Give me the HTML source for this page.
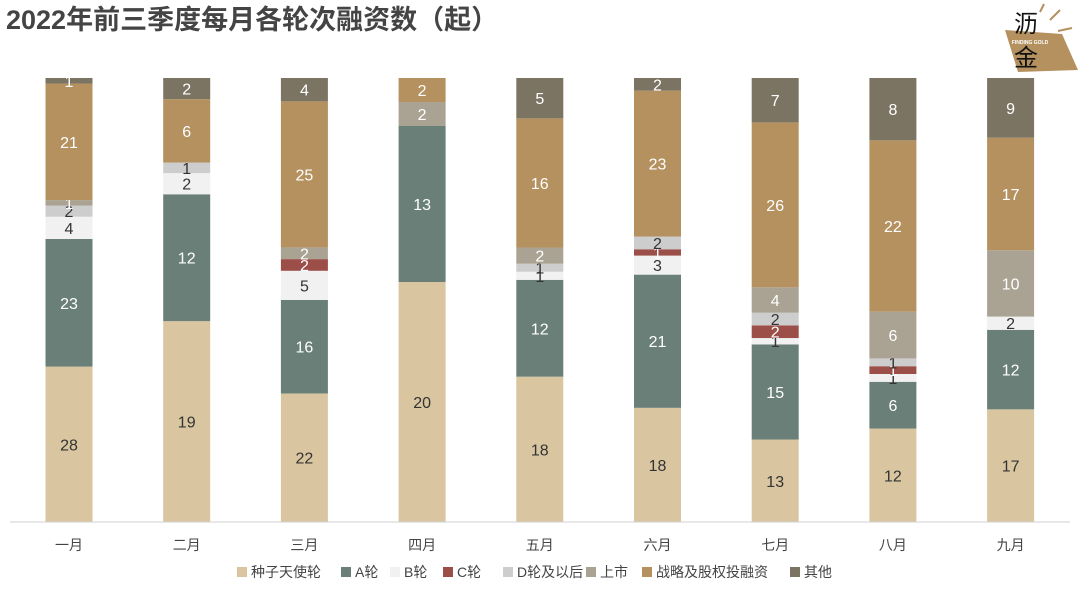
<!DOCTYPE html>
<html><head><meta charset="utf-8"><style>
body{margin:0;background:#fff;font-family:"Liberation Sans","Noto Sans CJK SC",sans-serif}
</style></head><body>
<svg width="1080" height="591" xmlns="http://www.w3.org/2000/svg" id="chart">
<text x="6" y="29" font-size="27" font-weight="bold" fill="#444" font-family="Liberation Sans, Noto Sans CJK SC, sans-serif">2022年前三季度每月各轮次融资数（起）</text>
<g>
<polygon points="1005,30 1062,34 1078,70 1018,72" fill="#b4915f"/>
<line x1="1040" y1="12" x2="1044" y2="4" stroke="#b4915f" stroke-width="2"/>
<line x1="1050" y1="20" x2="1060" y2="10" stroke="#b4915f" stroke-width="2"/>
<line x1="1058" y1="31" x2="1072" y2="28" stroke="#b4915f" stroke-width="2"/>
<text x="1026" y="32" font-size="24" text-anchor="middle" fill="#111" font-family="Noto Sans CJK SC, sans-serif">沥</text>
<text x="1030" y="44" font-size="5" font-weight="bold" text-anchor="middle" fill="#fff">FINDING GOLD</text>
<text x="1026" y="66" font-size="24" text-anchor="middle" fill="#111" font-family="Noto Sans CJK SC, sans-serif">金</text>
</g>
<g id="bars"></g>
<line x1="10" y1="522" x2="1070" y2="522" stroke="#d0d0d0"/>
<g id="xlabels"></g>
<g id="legend"></g>
</svg>
<script>
const months = ["一月","二月","三月","四月","五月","六月","七月","八月","九月"];
const seriesNames = ["种子天使轮","A轮","B轮","C轮","D轮及以后","上市","战略及股权投融资","其他"];
const seed = [28,19,22,20,18,18,13,12,17];
const roundA = [23,12,16,13,12,21,15,6,12];
const roundB = [4,2,5,0,1,3,1,1,2];
const roundC = [0,0,2,0,0,1,2,1,0];
const roundD = [2,1,0,0,1,2,2,1,0];
const ipo = [1,0,2,2,2,0,4,6,10];
const strategic = [21,6,25,2,16,23,26,22,17];
const other = [1,2,4,0,5,2,7,8,9];
const series = [seed,roundA,roundB,roundC,roundD,ipo,strategic,other];
const colors = ["#d9c6a0","#6a7f78","#f1f1f1","#9c4f48","#cdcdcd","#aaa292","#b4915f","#7c7463"];
const textColors = ["#333","#fff","#333","#fff","#333","#fff","#fff","#fff"];
const NS="http://www.w3.org/2000/svg";
const plotTop=78,plotBottom=522,x0=69,step=117.7,bw=47;
const xPos=i=>x0+i*step;
const yScale=f=>plotBottom-f*(plotBottom-plotTop);
const gb=document.getElementById('bars');
months.forEach((m,i)=>{
  let total=series.reduce((s,a)=>s+a[i],0),cum=0;
  series.forEach((arr,k)=>{
    const v=arr[i]; if(!v) return;
    const y1=yScale(cum/total),y2=yScale((cum+v)/total);cum+=v;
    const r=document.createElementNS(NS,'rect');
    r.setAttribute('x',xPos(i)-bw/2);r.setAttribute('y',y2);r.setAttribute('width',bw);r.setAttribute('height',y1-y2);r.setAttribute('fill',colors[k]);
    
    
    gb.appendChild(r);
    const t=document.createElementNS(NS,'text');
    t.setAttribute('x',xPos(i));t.setAttribute('y',(y1+y2)/2+6);t.setAttribute('text-anchor','middle');t.setAttribute('font-size','16');t.setAttribute('fill',textColors[k]);
    t.textContent=v;
    
    
    gb.appendChild(t);
  });
  const l=document.createElementNS(NS,'text');
  l.setAttribute('x',xPos(i));l.setAttribute('y',550);l.setAttribute('text-anchor','middle');l.setAttribute('font-size','14');l.setAttribute('fill','#444');
  l.textContent=m;
  
  
  document.getElementById('xlabels').appendChild(l);
});
const lg=document.getElementById('legend');
const lx=[237,341,390,443,503,586,642,790];
seriesNames.forEach((n,k)=>{
  const g=document.createElementNS(NS,'g');
  
  
  const r=document.createElementNS(NS,'rect');
  r.setAttribute('x',lx[k]);r.setAttribute('y',567);r.setAttribute('width',10);r.setAttribute('height',10);r.setAttribute('fill',colors[k]);
  const t=document.createElementNS(NS,'text');
  t.setAttribute('x',lx[k]+14);t.setAttribute('y',577);t.setAttribute('font-size','14');t.setAttribute('fill','#444');
  t.textContent=n;
  g.appendChild(r);g.appendChild(t);lg.appendChild(g);
});
</script>
</body></html>
